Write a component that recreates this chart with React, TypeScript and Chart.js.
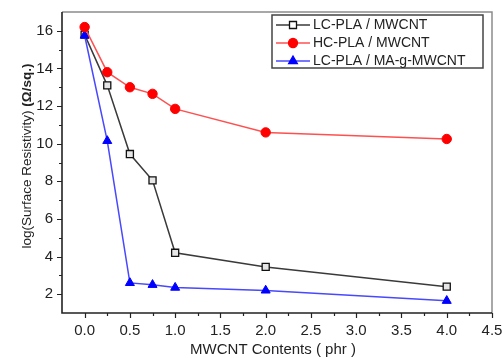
import React, { useEffect, useRef } from 'react';
import { Chart, registerables } from 'chart.js';

Chart.register(...registerables);

// ---- data ----
const xValues = [0, 0.25, 0.5, 0.75, 1, 2, 4];
const lcPlaMwcnt = [15.8, 13.1, 9.45, 8.05, 4.2, 3.45, 2.4];
const hcPlaMwcnt = [16.2, 13.8, 13.0, 12.65, 11.85, 10.6, 10.25];
const lcPlaMaGMwcnt = [15.75, 10.15, 2.6, 2.5, 2.35, 2.2, 1.65];
const seriesLabels = ['LC-PLA / MWCNT', 'HC-PLA / MWCNT', 'LC-PLA / MA-g-MWCNT'];
const xMajorTicks = [0, 0.5, 1, 1.5, 2, 2.5, 3, 3.5, 4, 4.5];
const xMinorTicks = [0.25, 0.75, 1.25, 1.75, 2.25, 2.75, 3.25, 3.75, 4.25];
const yMajorTicks = [2, 4, 6, 8, 10, 12, 14, 16];
const yMinorTicks = [3, 5, 7, 9, 11, 13, 15];
const xTitle = 'MWCNT Contents ( phr )';
const yTitleMain = 'log(Surface Resistivity) ';
const yTitleUnit = '(\u03A9/sq.)';

const FONT = '"Liberation Sans", Arial, sans-serif';

const styles = [
  { line: '#3a3a3a', fill: '#ffffff', stroke: '#111111', shape: 'rect' },
  { line: '#ff5050', fill: '#ff0000', stroke: '#ff0000', shape: 'circle' },
  { line: '#4848ff', fill: '#0000ff', stroke: '#0000ff', shape: 'triangle' },
];

function drawMarker(ctx: CanvasRenderingContext2D, shape: string, x: number, y: number, fill: string, stroke: string) {
  ctx.save();
  ctx.fillStyle = fill;
  ctx.strokeStyle = stroke;
  ctx.lineWidth = 1.3;
  ctx.beginPath();
  if (shape === 'rect') {
    ctx.rect(x - 3.5, y - 3.5, 7, 7);
  } else if (shape === 'circle') {
    ctx.arc(x, y, 4.5, 0, Math.PI * 2);
  } else {
    const r = 5;
    ctx.moveTo(x, y - r);
    ctx.lineTo(x + r * 0.866, y + r / 2);
    ctx.lineTo(x - r * 0.866, y + r / 2);
    ctx.closePath();
  }
  ctx.fill();
  ctx.stroke();
  ctx.restore();
}

const framePlugin = {
  id: 'framePlugin',
  afterDraw(chart: any) {
    const { ctx, chartArea } = chart;
    const { left, right, top, bottom } = chartArea;
    const xs = chart.scales.x;
    const ys = chart.scales.y;
    ctx.save();
    // top & right border
    ctx.strokeStyle = '#8c8c8c';
    ctx.lineWidth = 1.5;
    ctx.beginPath();
    ctx.moveTo(left, top);
    ctx.lineTo(right, top);
    ctx.lineTo(right, bottom);
    ctx.stroke();
    // left & bottom axes
    ctx.strokeStyle = '#222';
    ctx.lineWidth = 1.6;
    ctx.beginPath();
    ctx.moveTo(left, top);
    ctx.lineTo(left, bottom);
    ctx.lineTo(right, bottom);
    ctx.stroke();
    // ticks
    ctx.lineWidth = 1.2;
    ctx.beginPath();
    yMajorTicks.forEach((v) => {
      const p = Math.round(ys.getPixelForValue(v)) + 0.5;
      ctx.moveTo(left - 5, p);
      ctx.lineTo(left, p);
    });
    yMinorTicks.forEach((v) => {
      const p = Math.round(ys.getPixelForValue(v)) + 0.5;
      ctx.moveTo(left - 3, p);
      ctx.lineTo(left, p);
    });
    xMajorTicks.forEach((v) => {
      const p = Math.round(xs.getPixelForValue(v)) + 0.5;
      ctx.moveTo(p, bottom);
      ctx.lineTo(p, bottom + 5);
    });
    xMinorTicks.forEach((v) => {
      const p = Math.round(xs.getPixelForValue(v)) + 0.5;
      ctx.moveTo(p, bottom);
      ctx.lineTo(p, bottom + 3);
    });
    ctx.stroke();

    // x title
    ctx.fillStyle = '#222';
    ctx.font = `15px ${FONT}`;
    ctx.textAlign = 'center';
    ctx.textBaseline = 'middle';
    ctx.fillText(xTitle, 273, 350);

    // y title (rotated, unit in bold)
    ctx.save();
    ctx.translate(27, 156);
    ctx.rotate(-Math.PI / 2);
    ctx.font = `13.5px ${FONT}`;
    const w1 = ctx.measureText(yTitleMain).width;
    ctx.font = `bold 13.5px ${FONT}`;
    const w2 = ctx.measureText(yTitleUnit).width;
    const start = -(w1 + w2) / 2;
    ctx.textAlign = 'left';
    ctx.font = `13.5px ${FONT}`;
    ctx.fillText(yTitleMain, start, 0);
    ctx.font = `bold 13.5px ${FONT}`;
    ctx.fillText(yTitleUnit, start + w1, 0);
    ctx.restore();

    // legend
    const bx = 272, by = 15, bw = 211, bh = 53;
    ctx.fillStyle = '#ffffff';
    ctx.fillRect(bx, by, bw, bh);
    ctx.strokeStyle = '#444';
    ctx.lineWidth = 1.5;
    ctx.strokeRect(bx, by, bw, bh);
    seriesLabels.forEach((label, i) => {
      const ry = 25 + i * 18;
      const st = styles[i];
      ctx.strokeStyle = st.line;
      ctx.lineWidth = 1.5;
      ctx.beginPath();
      ctx.moveTo(276, ry);
      ctx.lineTo(310, ry);
      ctx.stroke();
      drawMarker(ctx, st.shape, 293, ry, st.fill, st.stroke);
      ctx.fillStyle = '#222';
      ctx.font = `14px ${FONT}`;
      ctx.textAlign = 'left';
      ctx.textBaseline = 'middle';
      ctx.fillText(label, 313, ry + 0.5);
    });
    ctx.restore();
  },
};

export default function App() {
  const canvasRef = useRef<HTMLCanvasElement | null>(null);

  useEffect(() => {
    document.body.style.margin = '0';
    const canvas = canvasRef.current;
    if (!canvas) return;
    const seriesValues = [lcPlaMwcnt, hcPlaMwcnt, lcPlaMaGMwcnt];
    const drawOrder = [3, 1, 2];
    const pointShapes = ['rect', 'circle', 'triangle'];
    const pointRadii = [5, 4.7, 5.2];
    const datasets = seriesValues.map((vals, i) => ({
      label: seriesLabels[i],
      data: xValues.map((x, j) => ({ x, y: vals[j] })),
      showLine: true,
      borderColor: styles[i].line,
      borderWidth: 1.5,
      pointStyle: pointShapes[i],
      pointRadius: pointRadii[i],
      pointBackgroundColor: i === 0 ? '#e6e6e6' : styles[i].fill,
      pointBorderColor: styles[i].stroke,
      pointBorderWidth: i === 0 ? 1.3 : 1,
      order: drawOrder[i],
      clip: false,
    }));

    const chart = new Chart(canvas, {
      type: 'scatter',
      data: { datasets },
      options: {
        animation: false,
        responsive: false,
        devicePixelRatio: 1,
        layout: { padding: { top: 12, right: 10, left: 0, bottom: 0 } },
        plugins: {
          legend: { display: false },
          tooltip: { enabled: false },
        },
        scales: {
          x: {
            type: 'linear',
            min: -0.25,
            max: 4.5,
            grid: { display: false, drawTicks: false },
            border: { display: false },
            afterBuildTicks: (scale: any) => {
              scale.ticks = xMajorTicks.map((v) => ({ value: v }));
            },
            afterFit: (scale: any) => {
              scale.height = 45;
              scale.paddingLeft = 0;
              scale.paddingRight = 0;
              scale.paddingTop = 0;
              scale.paddingBottom = 0;
            },
            ticks: {
              padding: 9,
              color: '#222',
              font: { family: FONT, size: 15 },
              maxRotation: 0,
              autoSkip: false,
              callback: (v: any) => Number(v).toFixed(1),
            },
          },
          y: {
            type: 'linear',
            min: 1,
            max: 17,
            grid: { display: false, drawTicks: false },
            border: { display: false },
            afterBuildTicks: (scale: any) => {
              scale.ticks = yMajorTicks.map((v) => ({ value: v }));
            },
            afterFit: (scale: any) => {
              scale.width = 62;
              scale.paddingLeft = 0;
              scale.paddingRight = 0;
              scale.paddingTop = 0;
              scale.paddingBottom = 0;
            },
            ticks: {
              padding: 9,
              color: '#222',
              font: { family: FONT, size: 15 },
              autoSkip: false,
              callback: (v: any) => String(v),
            },
          },
        },
      },
      plugins: [framePlugin],
    } as any);

    return () => chart.destroy();
  }, []);

  return (
    <div style={{ width: 502, height: 358, background: '#fff' }}>
      <canvas ref={canvasRef} width={502} height={358} style={{ width: 502, height: 358, display: 'block' }} />
    </div>
  );
}
